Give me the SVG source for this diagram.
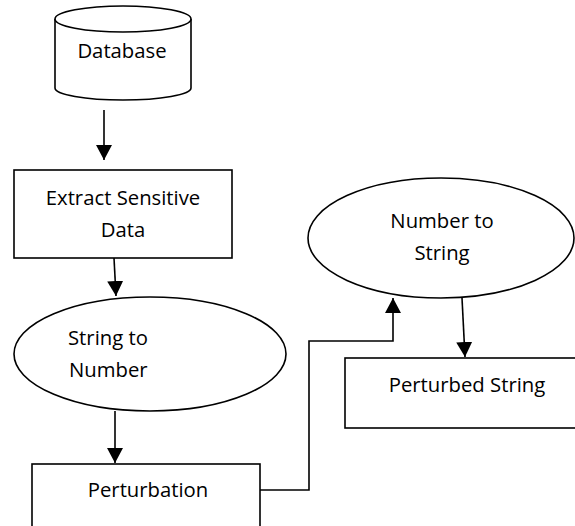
<svg xmlns="http://www.w3.org/2000/svg" width="575" height="526" viewBox="0 0 575 526">
<style>
.s{fill:#fff;stroke:#000;stroke-width:1.6}
.t{font-family:"Open Sans","Noto Sans",sans-serif;font-size:20.3px;fill:#000}
.m{text-anchor:middle}
.c{fill:none;stroke:#000;stroke-width:1.6}
</style>
<defs>
<marker id="ah" markerUnits="userSpaceOnUse" markerWidth="16" markerHeight="16" viewBox="0 0 16 16" refX="15" refY="8" orient="auto">
<path d="M0,0 L15,8 L0,16 Z" fill="#000"/>
</marker>
</defs>
<g id="database">
<path class="s" d="M55,19 L55,88 A68,12 0 0 0 191,88 L191,19"/>
<ellipse class="s" cx="123" cy="19" rx="68" ry="13"/>
<text class="t m" x="122" y="58">Database</text>
</g>
<g id="extract">
<rect class="s" x="14" y="170" width="218" height="88"/>
<text class="t m" x="123" y="205">Extract Sensitive</text>
<text class="t m" x="123" y="237">Data</text>
</g>
<g id="str2num">
<ellipse class="s" cx="150" cy="354" rx="136" ry="57"/>
<text class="t" x="68" y="345">String to</text>
<text class="t" x="69" y="377">Number</text>
</g>
<g id="perturbation">
<rect class="s" x="32" y="464" width="228" height="70"/>
<text class="t m" x="148" y="497">Perturbation</text>
</g>
<g id="num2str">
<ellipse class="s" cx="441" cy="238" rx="133" ry="60"/>
<text class="t m" x="442" y="228">Number to</text>
<text class="t m" x="442" y="260">String</text>
</g>
<g id="perturbed">
<rect class="s" x="345" y="358" width="240" height="70"/>
<text class="t m" x="467" y="392">Perturbed String</text>
</g>
<g id="connectors">
<path class="c" d="M104,110 L104,160" marker-end="url(#ah)"/>
<path class="c" d="M114,258 L116,296" marker-end="url(#ah)"/>
<path class="c" d="M115,411 L115,463" marker-end="url(#ah)"/>
<path class="c" d="M260,490 L309,490 L309,341 L393,341 L393,298" marker-end="url(#ah)"/>
<path class="c" d="M462,298 L465,357" marker-end="url(#ah)"/>
</g>
</svg>
